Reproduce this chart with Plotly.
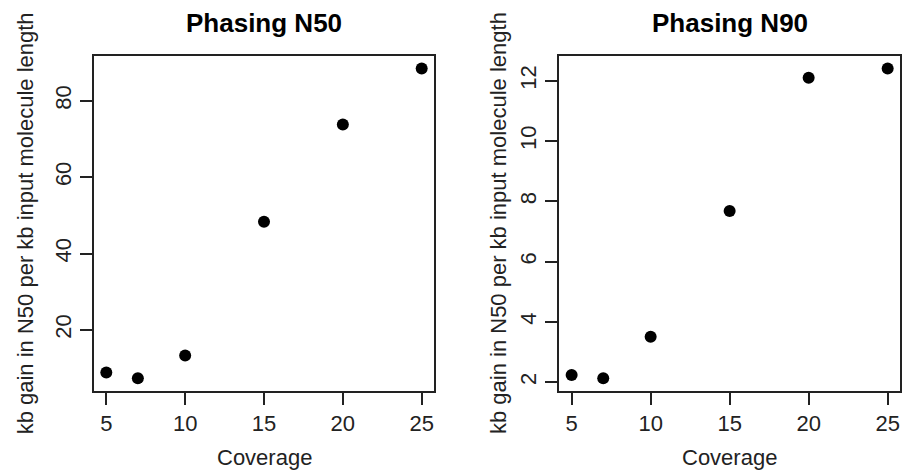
import plotly.graph_objects as go

coverage = [5, 7, 10, 15, 20, 25]
n50_gain = [8.8, 7.3, 13.3, 48.3, 73.8, 88.5]
n90_gain = [2.24, 2.13, 3.51, 7.68, 12.1, 12.41]
x_ticks = [5, 10, 15, 20, 25]
n50_ticks = [20, 40, 60, 80]
n90_ticks = [2, 4, 6, 8, 10, 12]
titles = ["Phasing N50", "Phasing N90"]
x_title = "Coverage"
y_title = "kb gain in N50 per kb input molecule length"

W, H = 912, 473
FONT = "Liberation Sans, Arial, sans-serif"
LINE = "#222222"

def rng(v):
    lo, hi = min(v), max(v)
    d = (hi - lo) * 0.04
    return [lo - d, hi + d]

fig = go.Figure()
fig.add_trace(go.Scatter(x=coverage, y=n50_gain, mode="markers", xaxis="x", yaxis="y",
                         marker=dict(color="black", size=12), showlegend=False))
fig.add_trace(go.Scatter(x=coverage, y=n90_gain, mode="markers", xaxis="x2", yaxis="y2",
                         marker=dict(color="black", size=12), showlegend=False))

ydom = [1 - 390.7 / H, 1 - 56 / H]
xdom1 = [93.7 / W, 434.3 / W]
xdom2 = [559 / W, 900.3 / W]

common_ax = dict(showline=True, linecolor=LINE, linewidth=2, mirror=True, ticks="outside",
                 ticklen=12, tickwidth=2, tickcolor=LINE, showgrid=False, zeroline=False,
                 tickfont=dict(family=FONT, size=22, color="#222222"), fixedrange=True)

fig.update_layout(
    width=W, height=H, margin=dict(l=0, r=0, t=0, b=0),
    plot_bgcolor="white", paper_bgcolor="white",
    xaxis=dict(domain=xdom1, range=rng(coverage), tickvals=x_ticks, anchor="y", **common_ax),
    yaxis=dict(domain=ydom, range=rng(n50_gain), tickvals=n50_ticks, anchor="x", tickangle=-90, **common_ax),
    xaxis2=dict(domain=xdom2, range=rng(coverage), tickvals=x_ticks, anchor="y2", **common_ax),
    yaxis2=dict(domain=ydom, range=rng(n90_gain), tickvals=n90_ticks, anchor="x2", tickangle=-90, **common_ax),
)

ann = []
for dom, t, ytx in [(xdom1, titles[0], 25), (xdom2, titles[1], 498.7)]:
    cx = (dom[0] + dom[1]) / 2
    ann.append(dict(text="<b>" + t + "</b>", x=cx, y=1 - 23 / H, xref="paper", yref="paper",
                    showarrow=False, xanchor="center", yanchor="middle",
                    font=dict(family=FONT, size=26, color="black")))
    ann.append(dict(text=x_title, x=cx, y=1 - 457 / H, xref="paper", yref="paper",
                    showarrow=False, xanchor="center", yanchor="middle",
                    font=dict(family=FONT, size=22, color="#222222")))
    ann.append(dict(text=y_title, x=ytx / W, y=(ydom[0] + ydom[1]) / 2, xref="paper", yref="paper",
                    showarrow=False, xanchor="center", yanchor="middle", textangle=-90,
                    font=dict(family=FONT, size=22, color="#222222")))
fig.update_layout(annotations=ann)

fig.write_html("out.html", config={"displayModeBar": False},
               post_script="document.body.style.margin='0';document.body.style.overflow='hidden';")
